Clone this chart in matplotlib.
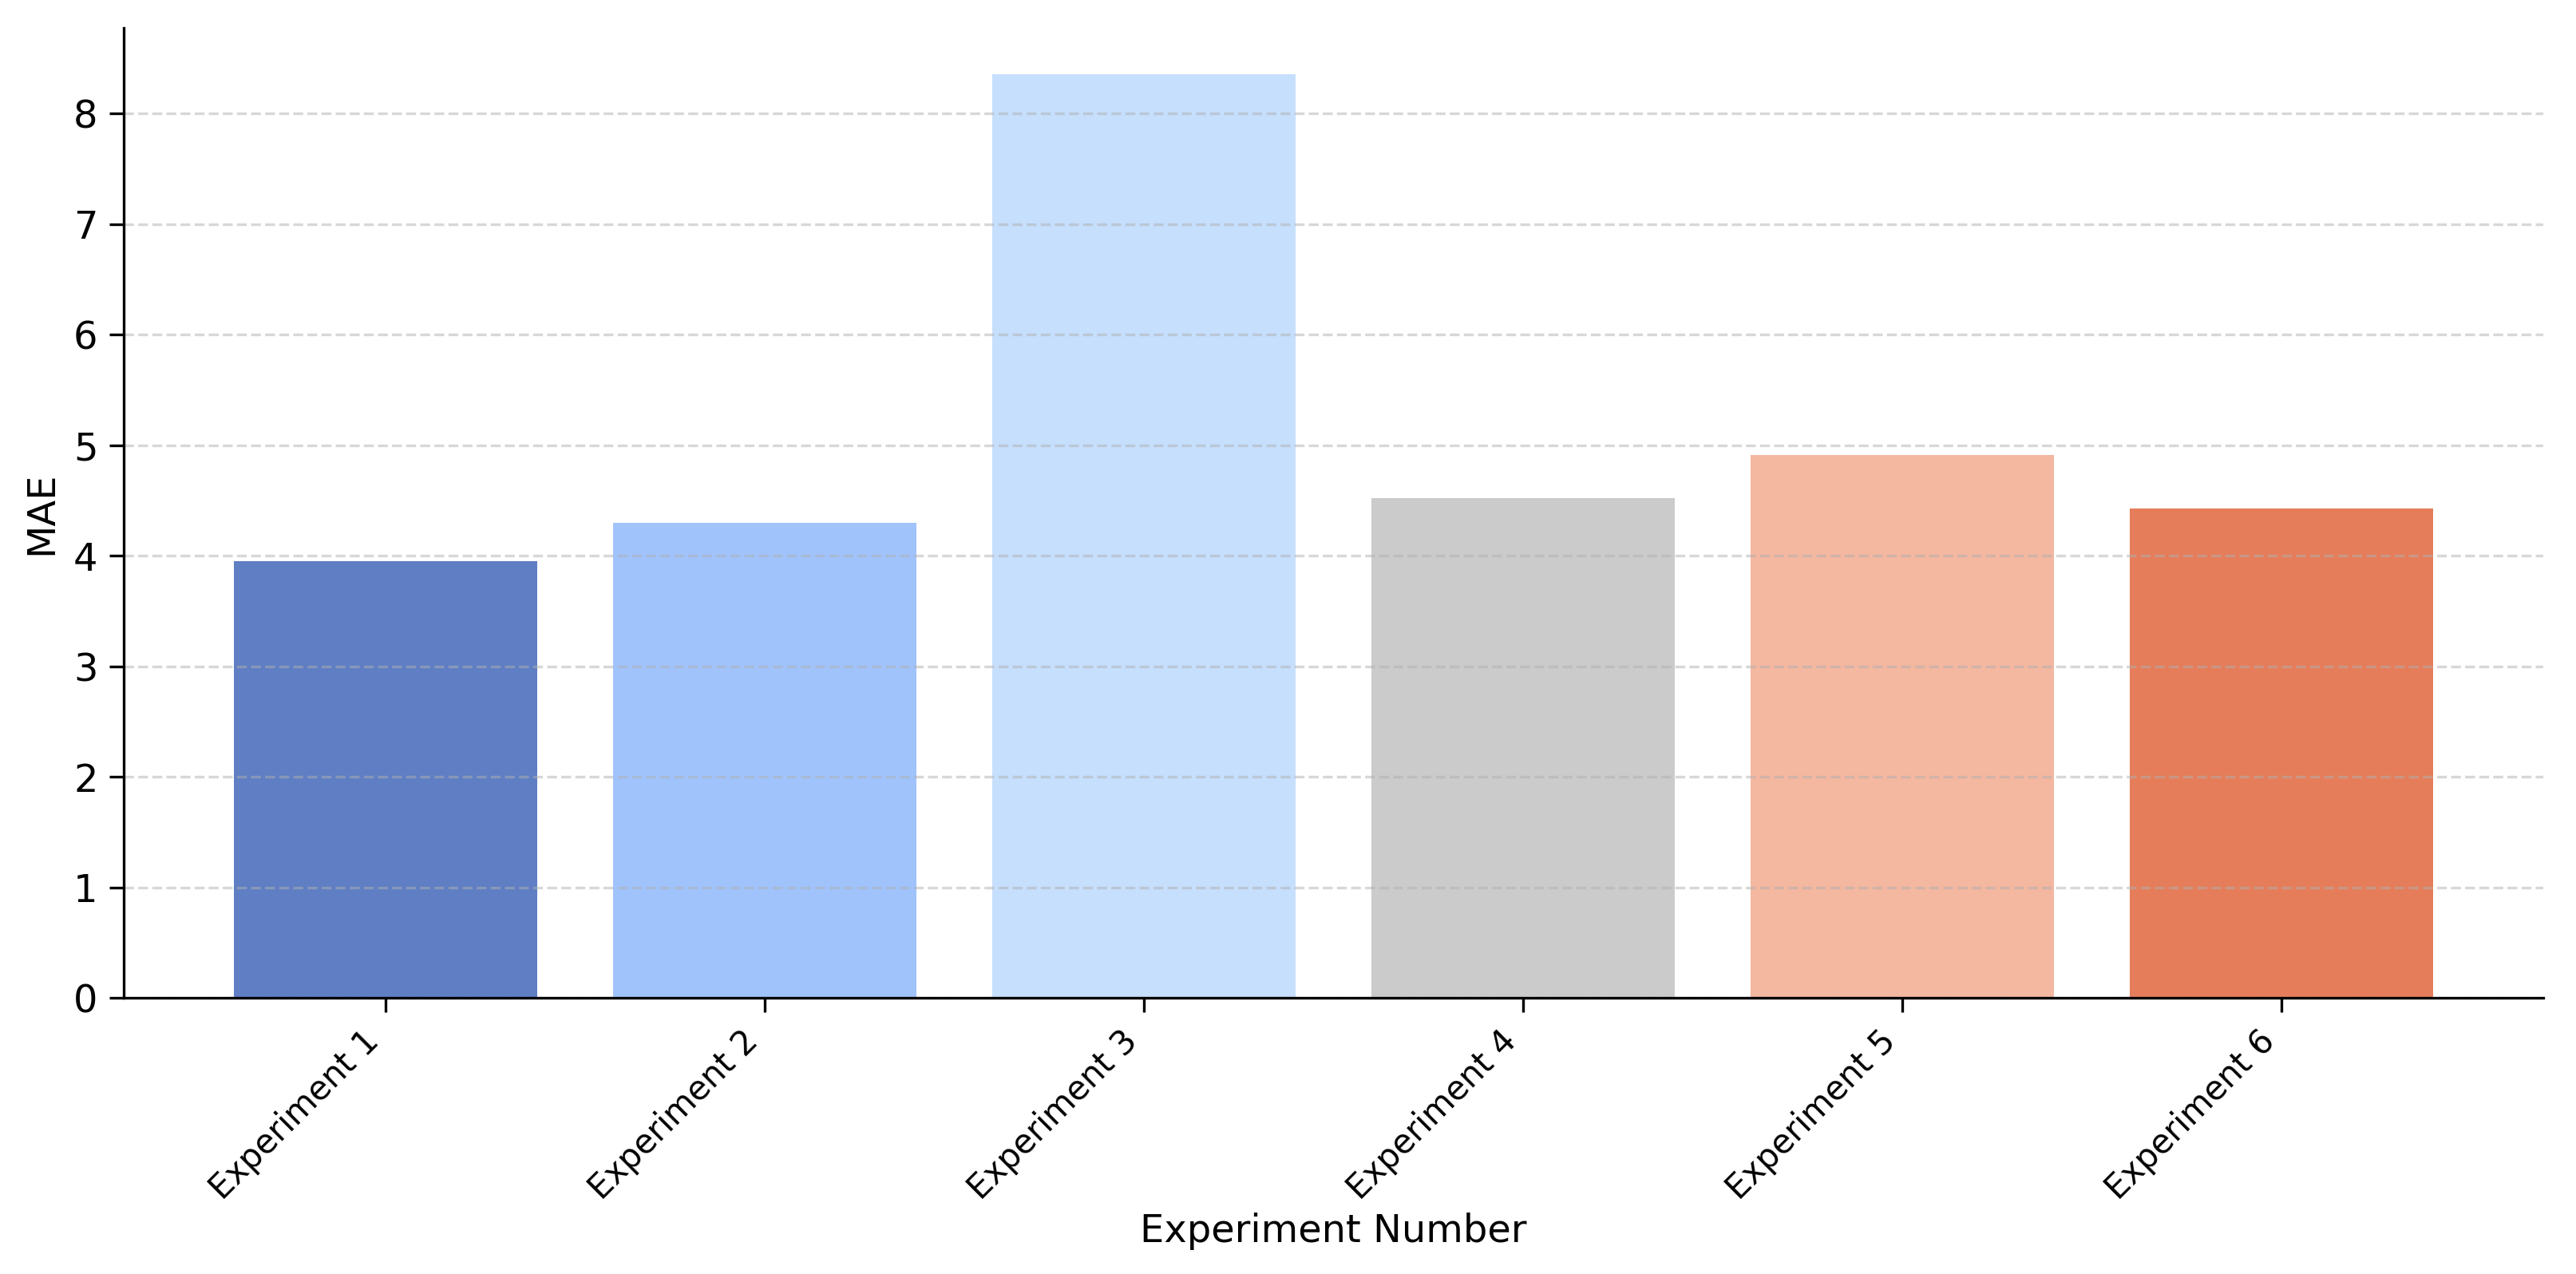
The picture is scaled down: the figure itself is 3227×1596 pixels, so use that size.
import matplotlib
matplotlib.use('Agg')
import matplotlib.pyplot as plt

# Data
experiments = ['Experiment 1', 'Experiment 2', 'Experiment 3',
               'Experiment 4', 'Experiment 5', 'Experiment 6']
mae_values = [3.95, 4.30, 8.36, 4.52, 4.91, 4.43]
bar_colors = ['#5f7ec4', '#a0c3fc', '#c6dffd', '#cbcbcb', '#f4b7a0', '#e67d5a']


def plot_mae_by_experiment():
    fig, ax = plt.subplots(figsize=(3227 / 300, 1596 / 300), dpi=300)
    fig.subplots_adjust(left=0.048, right=0.9873, top=0.9783, bottom=0.2165)

    positions = range(len(experiments))
    ax.bar(positions, mae_values, width=0.8, color=bar_colors)

    ax.set_xticks(list(positions))
    ax.set_xticklabels(experiments, rotation=45, ha='right', fontsize=10)
    ax.tick_params(axis='y', labelsize=11.5)
    ax.tick_params(length=4.3, width=0.8)

    ax.set_xlabel('Experiment Number', fontsize=11.5, labelpad=2)
    ax.set_ylabel('MAE', fontsize=11.5)

    ax.grid(axis='y', linestyle='--', color='#b0b0b0', alpha=0.5, linewidth=0.8)
    ax.spines['top'].set_visible(False)
    ax.spines['right'].set_visible(False)

    fig.savefig('out.png', dpi=300)


if __name__ == '__main__':
    plot_mae_by_experiment()
